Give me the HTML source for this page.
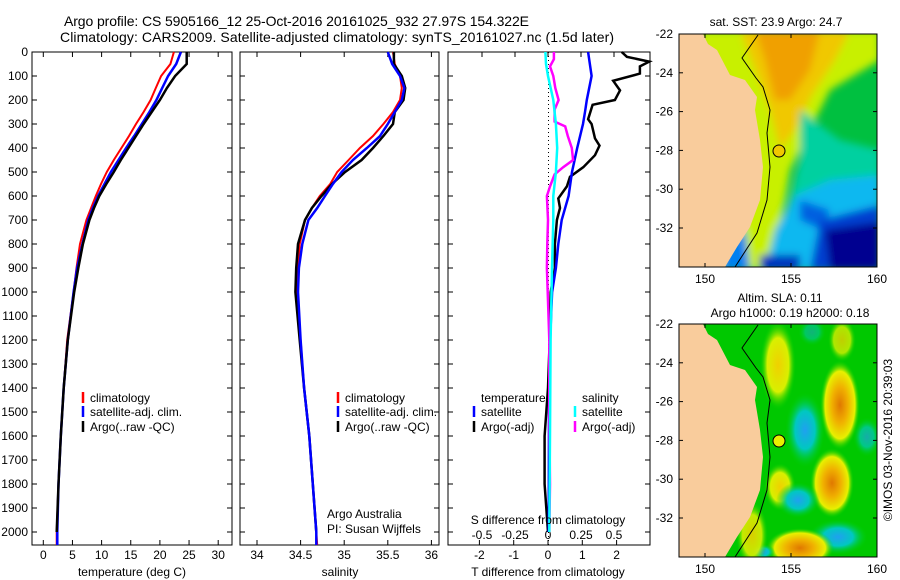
<!DOCTYPE html>
<html><head><meta charset="utf-8"><style>
html,body{margin:0;padding:0;background:#fff;}
svg{display:block;font-family:"Liberation Sans",sans-serif;}
</style></head><body>
<svg id="fig" width="900" height="580" viewBox="0 0 900 580" xmlns="http://www.w3.org/2000/svg">
<defs>
<clipPath id="c1"><rect x="679" y="34" width="198" height="233"/></clipPath>
<clipPath id="c2"><rect x="679" y="324" width="198" height="233"/></clipPath>
<filter id="bl" x="-20%" y="-20%" width="140%" height="140%"><feGaussianBlur stdDeviation="4"/></filter>
<radialGradient id="gOr"><stop offset="0" stop-color="#e07800"/><stop offset="0.4" stop-color="#f0b000"/><stop offset="0.75" stop-color="#e8f000"/><stop offset="1" stop-color="#00d000" stop-opacity="0"/></radialGradient>
<radialGradient id="gYe"><stop offset="0" stop-color="#f0d000"/><stop offset="0.6" stop-color="#d8f000"/><stop offset="1" stop-color="#00d000" stop-opacity="0"/></radialGradient>
<radialGradient id="gCy"><stop offset="0" stop-color="#20a0f0"/><stop offset="0.5" stop-color="#00c8c0"/><stop offset="1" stop-color="#00d000" stop-opacity="0"/></radialGradient>
</defs>
<text x="64" y="26" font-size="14" textLength="465">Argo profile: CS 5905166_12 25-Oct-2016 20161025_932 27.97S 154.322E</text>
<text x="60" y="42" font-size="14" textLength="554">Climatology: CARS2009. Satellite-adjusted climatology: synTS_20161027.nc (1.5d later)</text>
<g id="panels"></g>

<!-- Map 1 SST -->
<g>
<text x="776" y="26" font-size="12" text-anchor="middle">sat. SST: 23.9 Argo: 24.7</text>
<g clip-path="url(#c1)">
<rect x="679" y="34" width="198" height="233" fill="#00c040"/>
<g filter="url(#bl)">
<polygon points="700,30 880,30 880,60 830,90 810,130 790,170 785,200 770,270 700,270" fill="#c8f000"/>
<polygon points="740,30 850,30 835,60 812,95 795,130 780,150 770,110 755,70" fill="#f0c800"/>
<polygon points="755,30 820,30 810,70 790,100 775,100 765,60" fill="#f0a000"/>
<polygon points="800,110 840,140 880,150 880,190 840,200 810,230 790,250 775,250 790,200 800,160" fill="#00d0a0"/>
<polygon points="795,195 830,180 880,175 880,270 765,270 775,230" fill="#10b8f0"/>
<polygon points="800,200 830,210 822,230 800,220" fill="#0060e0"/>
<polygon points="820,220 880,205 880,270 810,270" fill="#0040d0"/>
<polygon points="825,230 880,222 880,270 830,270" fill="#000090"/>
<polygon points="760,255 800,255 800,270 760,270" fill="#0030c0"/>
<polygon points="725,240 745,230 750,270 720,270" fill="#0080f0"/>
</g>
<polygon points="679,34 703,34 708,44 717,50 730,75 745,80 757,97 755,110 760,140 763,167 760,200 750,227 737,247 725,267 679,267" fill="#f9cc9c"/>
<polyline points="758,35 742,58 756,78 763,87 770,110 767,133 770,167 767,200 757,233 735,267" fill="none" stroke="#000" stroke-width="1"/>
<circle cx="779" cy="151" r="6" fill="#f0c800" stroke="#000" stroke-width="1"/>
</g>
<rect x="679" y="34" width="198" height="233" fill="none" stroke="#000" stroke-width="1"/>
</g>

<!-- Map 2 SLA -->
<g>
<text x="780" y="302" font-size="12" text-anchor="middle">Altim. SLA: 0.11</text>
<text x="790" y="317" font-size="12" text-anchor="middle">Argo h1000: 0.19 h2000: 0.18</text>
<g clip-path="url(#c2)">
<rect x="679" y="324" width="198" height="233" fill="#00c800"/>
<ellipse cx="778" cy="365" rx="18" ry="45" fill="url(#gYe)"/>
<ellipse cx="812" cy="332" rx="14" ry="14" fill="url(#gCy)" opacity="0.5"/>
<ellipse cx="842" cy="340" rx="14" ry="22" fill="url(#gYe)" opacity="0.8"/>
<ellipse cx="840" cy="405" rx="20" ry="45" fill="url(#gOr)"/>
<ellipse cx="805" cy="430" rx="20" ry="38" fill="url(#gCy)"/>
<ellipse cx="867" cy="437" rx="14" ry="20" fill="url(#gCy)" opacity="0.7"/>
<ellipse cx="832" cy="483" rx="22" ry="35" fill="url(#gOr)"/>
<ellipse cx="780" cy="487" rx="16" ry="24" fill="url(#gYe)"/>
<ellipse cx="798" cy="500" rx="22" ry="18" fill="url(#gCy)"/>
<ellipse cx="838" cy="537" rx="30" ry="18" fill="url(#gCy)"/>
<ellipse cx="800" cy="548" rx="34" ry="20" fill="url(#gOr)"/>
<ellipse cx="763" cy="552" rx="12" ry="8" fill="url(#gCy)"/>
<ellipse cx="752" cy="535" rx="16" ry="34" fill="url(#gYe)" opacity="0.9"/>
<polygon points="679,324 703,324 708,334 717,340 730,365 745,370 757,387 755,400 760,430 763,457 760,490 750,517 737,537 725,557 679,557" fill="#f9cc9c"/>
<polyline points="758,325 742,348 756,368 763,377 770,400 767,423 770,457 767,490 757,523 735,557" fill="none" stroke="#000" stroke-width="1"/>
<circle cx="779" cy="441" r="6" fill="#e8f000" stroke="#000" stroke-width="1"/>
</g>
<rect x="679" y="324" width="198" height="233" fill="none" stroke="#000" stroke-width="1"/>
</g>
<text transform="translate(892,440) rotate(-90)" font-size="12" text-anchor="middle">©IMOS 03-Nov-2016 20:39:03</text>
<g id="mapaxes"></g>
</svg>
<script>
// ---- data ----
const tsDepth = [0,50,100,150,200,250,300,350,400,450,500,550,600,650,700,800,900,1000,1200,1400,1600,1800,2000];
const climDepth = [0,50,100,150,200,250,300,350,400,450,500,550,600,650,700,800,900,1000,1200,1400,1600,1800,2000,2054];
const tArgo = [24.6,24.6,22.6,21.2,20,18.6,17.2,15.9,14.6,13.3,12.1,10.8,9.6,8.7,7.9,6.8,6,5.3,4.2,3.5,3.0,2.6,2.3];
const tSat  = [23.6,22.8,21.4,20.4,19.4,18.2,16.9,15.6,14.2,12.9,11.6,10.5,9.4,8.5,7.7,6.7,5.8,5.2,4.2,3.5,3.0,2.6,2.4,2.4];
const tClim = [22.4,21.8,20.2,19.3,18.4,17.2,15.9,14.7,13.4,12.1,10.9,9.9,9.0,8.2,7.4,6.3,5.7,5.2,4.1,3.5,3.0,2.6,2.3,2.3];
const sArgo = [35.57,35.57,35.66,35.70,35.68,35.58,35.56,35.45,35.33,35.20,35.01,34.86,34.74,34.63,34.55,34.47,34.45,34.44,34.49,34.54,34.60,34.64,34.68];
const sSat  = [35.50,35.55,35.64,35.69,35.66,35.58,35.50,35.41,35.26,35.10,34.97,34.87,34.78,34.69,34.59,34.52,34.48,34.47,34.50,34.54,34.60,34.64,34.68,34.68];
const sClim = [35.56,35.58,35.64,35.66,35.64,35.56,35.45,35.33,35.18,35.05,34.92,34.84,34.72,34.63,34.55,34.49,34.47,34.46,34.50,34.54,34.60,34.64,34.68,34.69];
const dtArgoDepth = [0,20,40,60,90,120,160,200,220,280,300,360,390,430,480,520,560,610,650,700,800,900,1000,1200,1400,1600,1800,2000];
const dtArgo = [2.15,2.3,2.95,2.68,2.68,1.9,2.1,1.95,1.3,1.17,1.27,1.37,1.5,1.37,1.03,0.64,0.55,0.3,0.35,0.26,0.2,0.2,0.08,0.05,0.0,-0.1,-0.1,0.0];
const dtSatDepth = [0,100,200,250,300,400,500,600,700,800,900,1000,1200,1500,2000];
const dtSat = [1.17,1.27,1.13,1.08,1.02,0.85,0.7,0.6,0.4,0.3,0.23,0.12,0.06,0.03,0.02];
const dsArgoDepth = [0,30,60,100,150,200,240,290,310,350,400,450,480,510,560,600,700,800,900,1200,1500,1800,2000];
const dsArgo = [0.045,0.045,0.015,0.04,0.055,0.08,0.05,0.05,0.13,0.15,0.18,0.19,0.115,0.05,0.015,-0.008,0,-0.005,-0.008,0.01,0.01,0.015,0.01];
const dsSatDepth = [0,50,100,200,300,400,500,600,700,900,1200,1600,2000];
const dsSat = [-0.02,-0.015,0,0.04,0.06,0.07,0.06,0.04,0.04,0.03,0.02,0.015,0.01];
const depthTicks = [0,100,200,300,400,500,600,700,800,900,1000,1100,1200,1300,1400,1500,1600,1700,1800,1900,2000];
const tTicks = [0,5,10,15,20,25,30];
const sTicks = [34,34.5,35,35.5,36];
const dtTicks = [-2,-1,0,1,2];
const dsTicks = [-0.5,-0.25,0,0.25,0.5];
const lonTicks = [150,155,160];
const latTicks = [-22,-24,-26,-28,-30,-32];

const NS="http://www.w3.org/2000/svg";
const P = document.getElementById('panels');
function mk(tag, attrs, parent, txt){const e=document.createElementNS(NS,tag);for(const k in attrs)e.setAttribute(k,attrs[k]);if(txt!==undefined)e.textContent=txt;(parent||P).appendChild(e);return e;}
const yD = d => 52 + d*0.24;
const xT = t => 43.3 + t*5.83;
const xS = s => 257 + (s-34)*87.2;
const xDT = v => 548 + v*34.3;
const xDS = v => 548 + v*132;
const TOP=52, BOT=545;
const panels=[[32,232],[240,439],[448,650]];

function line(xs, ds, fx, color, w, name){
  const pts = xs.map((v,i)=>fx(v).toFixed(1)+','+yD(ds[i]).toFixed(1)).join(' ');
  const e = mk('polyline',{points:pts,fill:'none',stroke:color,'stroke-width':w,'stroke-linejoin':'miter'});
  
  
}
panels.forEach((p,pi)=>{
  const r = mk('rect',{x:p[0],y:TOP,width:p[1]-p[0],height:BOT-TOP,fill:'none',stroke:'#000','stroke-width':1});
  
  
  depthTicks.forEach(d=>{
    mk('line',{x1:p[0],x2:p[0]+5,y1:yD(d),y2:yD(d),stroke:'#000'});
    mk('line',{x1:p[1]-5,x2:p[1],y1:yD(d),y2:yD(d),stroke:'#000'});
  });
});
depthTicks.forEach(d=>{
  const t = mk('text',{x:28,y:yD(d)+4,'font-size':12,'text-anchor':'end'},P,String(d));
  
  
});
function xticks(ticks, fx, labY, top, bottom){
  ticks.forEach(v=>{
    const x=fx(v);
    if(top) mk('line',{x1:x,x2:x,y1:TOP,y2:TOP+5,stroke:'#000'});
    if(bottom) mk('line',{x1:x,x2:x,y1:BOT-5,y2:BOT,stroke:'#000'});
    if(labY){const t=mk('text',{x:x,y:labY,'font-size':12,'text-anchor':'middle'},P,String(v));
      
      }
  });
}
xticks(tTicks,xT,559,true,true);
xticks(sTicks,xS,559,true,true);
xticks(dtTicks,xDT,559,false,true);
xticks(dsTicks,xDS,539,true,false);
mk('line',{x1:548.5,x2:548.5,y1:TOP,y2:BOT,stroke:'#000','stroke-dasharray':'1,3'});
line(tClim,climDepth,xT,'#ff0000',2,'temp-climatology-line');
line(tSat,climDepth,xT,'#0000ff',2.5,'temp-satellite-line');
line(tArgo,tsDepth,xT,'#000',2.5,'temp-argo-line');
line(sClim,climDepth,xS,'#ff0000',2,'sal-climatology-line');
line(sArgo,tsDepth,xS,'#000',2.5,'sal-argo-line');
line(sSat,climDepth,xS,'#0000ff',2.5,'sal-satellite-line');
line(dtArgo,dtArgoDepth,xDT,'#000',2.5,'tdiff-argo-line');
line(dtSat,dtSatDepth,xDT,'#0000ff',2.5,'tdiff-satellite-line');
line(dsArgo,dsArgoDepth,xDS,'#ff00ff',2.5,'sdiff-argo-line');
line(dsSat,dsSatDepth,xDS,'#00ffff',2.5,'sdiff-satellite-line');
function txt(x,y,s,name,anchor){const t=mk('text',{x:x,y:y,'font-size':12,'text-anchor':anchor||'start'},P,s);
  
  }
txt(132,576,'temperature (deg C)','x-axis-title-temperature','middle');
txt(340,576,'salinity','x-axis-title-salinity','middle');
txt(548,576,'T difference from climatology','x-axis-title-tdiff','middle');
txt(548,524,'S difference from climatology','x-axis-title-sdiff','middle');
txt(327,518,'Argo Australia','credit-argo-australia');
txt(327,533,'PI: Susan Wijffels','credit-pi');
function leg(bx,y,color,label,name){
  mk('line',{x1:bx,x2:bx,y1:y-10,y2:y+1,stroke:color,'stroke-width':2.5});
  txt(bx+7,y,label,name);
}
const legY=[402,416,431];
leg(83,legY[0],'#ff0000','climatology','legend-temp-climatology');
leg(83,legY[1],'#0000ff','satellite-adj. clim.','legend-temp-satellite');
leg(83,legY[2],'#000','Argo(..raw -QC)','legend-temp-argo');
leg(338,legY[0],'#ff0000','climatology','legend-sal-climatology');
leg(338,legY[1],'#0000ff','satellite-adj. clim.','legend-sal-satellite');
leg(338,legY[2],'#000','Argo(..raw -QC)','legend-sal-argo');
txt(481,legY[0],'temperature','legend-temperature-header');
txt(582,legY[0],'salinity','legend-salinity-header');
leg(474,legY[1],'#0000ff','satellite','legend-tdiff-satellite');
leg(474,legY[2],'#000','Argo(-adj)','legend-tdiff-argo');
leg(575,legY[1],'#00ffff','satellite','legend-sdiff-satellite');
leg(575,legY[2],'#ff00ff','Argo(-adj)','legend-sdiff-argo');
const MA=document.getElementById('mapaxes');
const xLon = l => 705 + (l-150)*17.2;
[[34,267,279],[324,557,569]].forEach(m=>{
  const yLat = la => m[0] + (-22-la)*19.4;
  lonTicks.forEach(l=>{
    mk('line',{x1:xLon(l),x2:xLon(l),y1:m[1]-4,y2:m[1],stroke:'#000'},MA);
    mk('line',{x1:xLon(l),x2:xLon(l),y1:m[0],y2:m[0]+4,stroke:'#000'},MA);
    const t=mk('text',{x:xLon(l),y:m[2]+4,'font-size':12,'text-anchor':'middle'},MA,String(l));
    
    
  });
  latTicks.forEach(la=>{
    mk('line',{x1:679,x2:683,y1:yLat(la),y2:yLat(la),stroke:'#000'},MA);
    mk('line',{x1:873,x2:877,y1:yLat(la),y2:yLat(la),stroke:'#000'},MA);
    const t=mk('text',{x:673,y:yLat(la)+4,'font-size':12,'text-anchor':'end'},MA,String(la));
    
    
  });
});
</script>
</body></html>
